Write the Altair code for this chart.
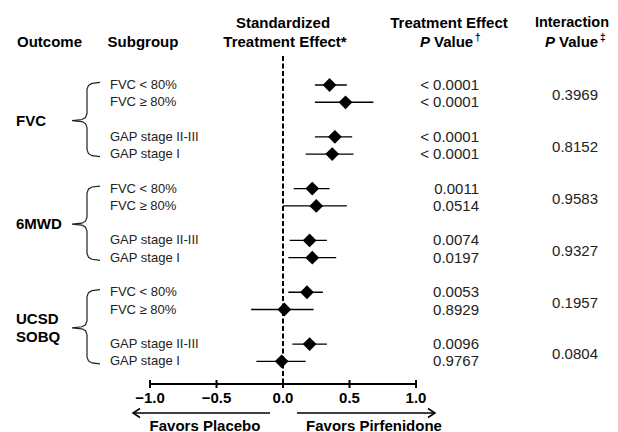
import altair as alt
import pandas as pd

# ---------------- data ----------------
outcomes = ["FVC", "6MWD", "UCSD\nSOBQ"]
subgroups = ["FVC < 80%", "FVC ≥ 80%", "GAP stage II-III", "GAP stage I"]
estimate = [0.35, 0.47, 0.39, 0.37, 0.22, 0.25, 0.20, 0.22, 0.18, 0.01, 0.20, -0.01]
ci_low = [0.24, 0.24, 0.24, 0.17, 0.08, 0.00, 0.05, 0.04, 0.04, -0.24, 0.07, -0.20]
ci_high = [0.48, 0.68, 0.52, 0.53, 0.35, 0.48, 0.33, 0.40, 0.30, 0.23, 0.33, 0.17]
trt_p = ["< 0.0001", "< 0.0001", "< 0.0001", "< 0.0001",
         "0.0011", "0.0514", "0.0074", "0.0197",
         "0.0053", "0.8929", "0.0096", "0.9767"]
int_p = ["0.3969", "0.8152", "0.9583", "0.9327", "0.1957", "0.0804"]
tick_values = [-1.0, -0.5, 0.0, 0.5, 1.0]
tick_labels = ["−1.0", "−0.5", "0.0", "0.5", "1.0"]

# ---------------- layout ----------------
W, H = 602, 424
PX0, PXU = 283.0, 133.0      # page x of effect 0, px per effect unit
PY0, PYU = 85.0, 17.27       # page y of row slot 0, px per slot


def xv(px):
    return (px - PX0) / PXU


def yv(py):
    return (py - PY0) / PYU


XS = alt.Scale(domain=[xv(8), xv(8 + W)], nice=False, zero=False)
YS = alt.Scale(domain=[yv(8), yv(8 + H)], nice=False, zero=False, reverse=True)
FONT = "Liberation Sans"


def X(f):
    return alt.X(f, type="quantitative", scale=XS, axis=None)


def Y(f):
    return alt.Y(f, type="quantitative", scale=YS, axis=None)


rows = []
for i in range(12):
    k, s = i // 2, i % 2
    rows.append(dict(slot=3 * k + s, est=estimate[i], lo=ci_low[i], hi=ci_high[i],
                     sub=subgroups[i % 4], p=trt_p[i],
                     xs=xv(110), xp=xv(479)))
rdf = pd.DataFrame(rows)

idf = pd.DataFrame([dict(slot=3 * k + 0.6, t=int_p[k], x=xv(598)) for k in range(6)])

# outcome labels
odf_rows = []
for g, name in enumerate(outcomes):
    mid = 6 * g + 2
    lines = name.split("\n")
    if len(lines) == 1:
        odf_rows.append(dict(x=xv(16), y=mid + 1 / PYU, t=lines[0]))
    else:
        odf_rows.append(dict(x=xv(16), y=mid - 8 / PYU, t=lines[0]))
        odf_rows.append(dict(x=xv(16), y=mid + 10 / PYU, t=lines[1]))
odf = pd.DataFrame(odf_rows)

# braces
bpts = []
for g in range(3):
    T = 6 * g - 0.15
    B = 6 * g + 4 + 0.15
    M = 6 * g + 2 + 1 / PYU
    shape = [(100, T, 0), (92, T, 1), (88.5, T, 3), (87, T, 7), (87, M, -7), (85.5, M, -3),
             (82, M, -1), (72, M, 0), (82, M, 1), (85.5, M, 3), (87, M, 7), (87, B, -7),
             (88.5, B, -3), (92, B, -1), (100, B, 0)]
    for j, (px, base, dy) in enumerate(shape):
        bpts.append(dict(g=g, i=j, x=xv(px), y=base + dy / PYU))
bdf = pd.DataFrame(bpts)

# headers
hdr_center = pd.DataFrame([
    dict(x=xv(49.5), y=yv(42), t="Outcome"),
    dict(x=xv(143), y=yv(42), t="Subgroup"),
    dict(x=xv(283), y=yv(23), t="Standardized"),
    dict(x=xv(285), y=yv(42), t="Treatment Effect*"),
    dict(x=xv(449), y=yv(23), t="Treatment Effect"),
])
hdr_right = pd.DataFrame([dict(x=xv(609), y=yv(23), t="Interaction")])
hdr_p = pd.DataFrame([dict(x=xv(420), y=yv(42), t="P"), dict(x=xv(545), y=yv(42), t="P")])
hdr_val = pd.DataFrame([dict(x=xv(434), y=yv(42), t="Value"), dict(x=xv(559), y=yv(42), t="Value")])
hdr_sup = pd.DataFrame([dict(x=xv(475), y=yv(38), t="†"), dict(x=xv(600), y=yv(38), t="‡")])

# axis
axis_df = pd.DataFrame([dict(x=tick_values[0], x2=tick_values[-1], y=yv(384))])
tick_df = pd.DataFrame([dict(x=v, y=yv(380), y2=yv(388), lab=l, ly=yv(398))
                        for v, l in zip(tick_values, tick_labels)])
zero_df = pd.DataFrame([dict(x=0.0, y=yv(56), y2=yv(384))])

arrow_lines = pd.DataFrame([dict(x=xv(133), x2=xv(270), y=yv(413)),
                            dict(x=xv(297), x2=xv(435), y=yv(413))])
heads = []
for g, (tip, back) in enumerate([(133, 140), (435, 428)]):
    for j, (px, py) in enumerate([(back, 408.5), (tip, 413), (back, 417.5)]):
        heads.append(dict(g=g, i=j, x=xv(px), y=yv(py)))
hdf = pd.DataFrame(heads)
fav_df = pd.DataFrame([dict(x=xv(205), y=yv(426), t="Favors Placebo"),
                       dict(x=xv(374), y=yv(426), t="Favors Pirfenidone")])

# ---------------- layers ----------------
zero_line = alt.Chart(zero_df).mark_rule(color="#000", strokeWidth=2, strokeDash=[5, 2.5]).encode(
    x=X("x"), y=Y("y"), y2="y2")
ci = alt.Chart(rdf).mark_rule(color="#000", strokeWidth=1.3).encode(
    x=X("lo"), x2="hi", y=Y("slot"))
pts = alt.Chart(rdf).mark_point(shape="diamond", filled=True, size=190, color="#000", opacity=1).encode(
    x=X("est"), y=Y("slot"))
sub_txt = alt.Chart(rdf).mark_text(align="left", baseline="middle", font=FONT, fontSize=13,
                                   color="#222").encode(x=X("xs"), y=Y("slot"), text="sub:N")
p_txt = alt.Chart(rdf).mark_text(align="right", baseline="middle", font=FONT, fontSize=15,
                                 color="#222").encode(x=X("xp"), y=Y("slot"), text="p:N")
i_txt = alt.Chart(idf).mark_text(align="right", baseline="middle", font=FONT, fontSize=15,
                                 color="#222").encode(x=X("x"), y=Y("slot"), text="t:N")
o_txt = alt.Chart(odf).mark_text(align="left", baseline="middle", font=FONT, fontSize=15,
                                 fontWeight="bold", color="#000").encode(x=X("x"), y=Y("y"), text="t:N")
braces = alt.Chart(bdf).mark_line(color="#222", strokeWidth=1.2).encode(
    x=X("x"), y=Y("y"), detail="g:N", order="i:Q")
h1 = alt.Chart(hdr_center).mark_text(align="center", baseline="middle", font=FONT, fontSize=15,
                                     fontWeight="bold", color="#000").encode(x=X("x"), y=Y("y"), text="t:N")
h1b = alt.Chart(hdr_right).mark_text(align="right", baseline="middle", font=FONT, fontSize=14.5,
                                     fontWeight="bold", color="#000").encode(x=X("x"), y=Y("y"), text="t:N")
h2 = alt.Chart(hdr_p).mark_text(align="left", baseline="middle", font=FONT, fontSize=15,
                                fontWeight="bold", fontStyle="italic", color="#000").encode(
    x=X("x"), y=Y("y"), text="t:N")
h3 = alt.Chart(hdr_val).mark_text(align="left", baseline="middle", font=FONT, fontSize=15,
                                  fontWeight="bold", color="#000").encode(x=X("x"), y=Y("y"), text="t:N")
h4 = alt.Chart(hdr_sup).mark_text(align="left", baseline="middle", font=FONT, fontSize=10,
                                  fontWeight="bold", color="#000").encode(x=X("x"), y=Y("y"), text="t:N")
ax_line = alt.Chart(axis_df).mark_rule(color="#000", strokeWidth=2).encode(x=X("x"), x2="x2", y=Y("y"))
ax_ticks = alt.Chart(tick_df).mark_rule(color="#000", strokeWidth=2).encode(x=X("x"), y=Y("y"), y2="y2")
ax_labels = alt.Chart(tick_df).mark_text(align="center", baseline="middle", font=FONT, fontSize=15,
                                         fontWeight="bold", color="#000").encode(
    x=X("x"), y=Y("ly"), text="lab:N")
arrows = alt.Chart(arrow_lines).mark_rule(color="#000", strokeWidth=1.5).encode(
    x=X("x"), x2="x2", y=Y("y"))
arrow_heads = alt.Chart(hdf).mark_line(color="#000", strokeWidth=1.5).encode(
    x=X("x"), y=Y("y"), detail="g:N", order="i:Q")
fav = alt.Chart(fav_df).mark_text(align="center", baseline="middle", font=FONT, fontSize=15,
                                  fontWeight="bold", color="#000").encode(x=X("x"), y=Y("y"), text="t:N")

chart = alt.layer(
    zero_line, ci, pts, sub_txt, p_txt, i_txt, o_txt, braces,
    h1, h1b, h2, h3, h4, ax_line, ax_ticks, ax_labels, arrows, arrow_heads, fav
).properties(
    width=W, height=H, padding=0, autosize=alt.AutoSizeParams(type="none"),
    background="white"
).configure_view(stroke=None)

chart.save("out.html", embed_options={"renderer": "svg", "actions": False})
